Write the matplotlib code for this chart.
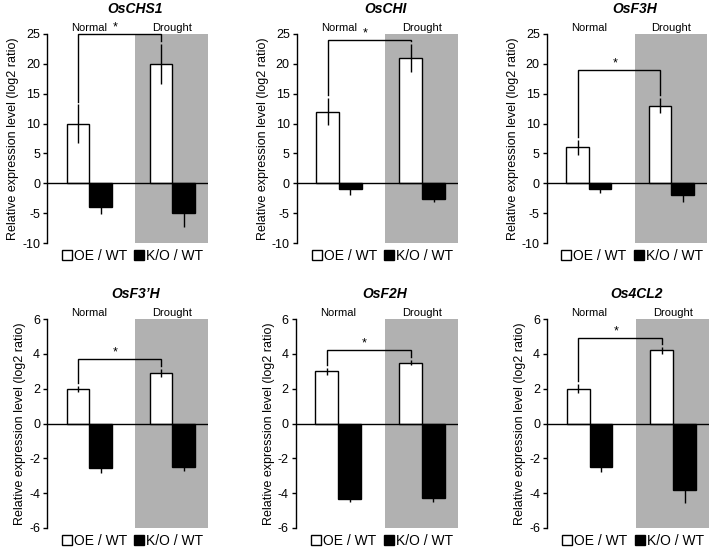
import matplotlib
matplotlib.use("Agg")
import matplotlib.pyplot as plt
from matplotlib.lines import Line2D
import numpy as np

plt.rcParams['font.family'] = ['Liberation Sans', 'DejaVu Sans']
plt.rcParams['axes.unicode_minus'] = False

genes = ["OsCHS1", "OsCHI", "OsF3H", "OsF3\u2019H", "OsF2H", "Os4CL2"]
conditions = ["Normal", "Drought"]
oe_vals = [[10, 20], [12, 21], [6, 13], [2.0, 2.9], [3.0, 3.5], [2.0, 4.2]]
oe_errs = [[3.2, 3.3], [2.3, 2.4], [1.3, 1.25], [0.17, 0.25], [0.2, 0.16], [0.25, 0.2]]
ko_vals = [[-4, -5], [-1, -2.7], [-1, -2], [-2.55, -2.5], [-4.35, -4.3], [-2.5, -3.8]]
ko_errs = [[1.2, 2.4], [1.0, 0.5], [0.6, 1.1], [0.3, 0.2], [0.15, 0.2], [0.3, 0.75]]
bracket_y = [25, 24, 19, 3.7, 4.2, 4.9]
ylims = [(-10, 25), (-10, 25), (-10, 25), (-6, 6), (-6, 6), (-6, 6)]
yticks_top = [-10, -5, 0, 5, 10, 15, 20, 25]
yticks_bot = [-6, -4, -2, 0, 2, 4, 6]
legend_labels = ["OE / WT", "K/O / WT"]

W, H = 709, 549
fig = plt.figure(figsize=(W / 100, H / 100), dpi=100)

lefts = [47, 296.7, 546.7, 47, 295.5, 547]
rights = [208, 458, 707, 208, 458, 709]
tops = [34, 34, 34, 319, 319, 319]
bottoms = [243, 243, 243, 528, 528, 528]

bw = 0.274
gray = "#b1b1b1"
x = np.arange(len(conditions))

for i, gene in enumerate(genes):
    l, r, t, b = lefts[i], rights[i], tops[i], bottoms[i]
    ax = fig.add_axes([l / W, (H - b) / H, (r - l) / W, (b - t) / H])
    ax.set_xlim(-0.51, 1.43)
    ax.set_ylim(*ylims[i])
    ax.axvspan(0.555, 1.43, color=gray, zorder=0, lw=0)
    oe = np.array(oe_vals[i]); oee = np.array(oe_errs[i])
    ko = np.array(ko_vals[i]); koe = np.array(ko_errs[i])
    ax.bar(x - bw / 2, oe, bw, color="white", edgecolor="black", lw=1.0, zorder=2,
           label=legend_labels[0])
    ax.bar(x + bw / 2, ko, bw, color="black", edgecolor="black", lw=1.0, zorder=2,
           label=legend_labels[1])
    ax.errorbar(x - bw / 2, oe, yerr=oee, fmt="none", ecolor="black", elinewidth=1.0,
                capsize=0, zorder=3)
    ax.errorbar(x + bw / 2, ko, yerr=koe, fmt="none", ecolor="black", elinewidth=1.0,
                capsize=0, zorder=1.5)
    ax.axhline(0, color="black", lw=1.0, zorder=4)
    # significance bracket
    yb = bracket_y[i]
    rng = ylims[i][1] - ylims[i][0]
    gap = rng * 0.014
    x0, x1 = x[0] - bw / 2, x[1] - bw / 2
    ax.plot([x0, x0, x1, x1], [oe[0] + oee[0] + gap, yb, yb, oe[1] + oee[1] + gap],
            color="black", lw=1.0, zorder=5, clip_on=False, solid_joinstyle="miter")
    ax.text((x0 + x1) / 2 - 0.05, yb + rng * 0.004, "*", ha="center", va="bottom",
            fontsize=9, zorder=6, clip_on=False)
    for xi, cond in zip(x, conditions):
        ax.text(xi, 1.004, cond, transform=ax.get_xaxis_transform(), ha="center",
                va="bottom", fontsize=8)
    ax.set_title(gene, fontsize=10, fontweight="bold", fontstyle="italic", pad=15,
                 x=0.55)
    ax.set_yticks(yticks_top if i < 3 else yticks_bot)
    ax.set_xticks([])
    for s in ["top", "right", "bottom"]:
        ax.spines[s].set_visible(False)
    ax.spines["left"].set_linewidth(1.0)
    ax.tick_params(axis="y", direction="out", length=3, width=1, labelsize=9, pad=2)
    ax.set_ylabel("Relative expression level (log2 ratio)", fontsize=9, labelpad=2)
    handles = [Line2D([], [], marker="s", ls="none", markerfacecolor="white",
                      markeredgecolor="black", markersize=7.5, markeredgewidth=1.0),
               Line2D([], [], marker="s", ls="none", markerfacecolor="black",
                      markeredgecolor="black", markersize=7.5)]
    ax.legend(handles, legend_labels, loc="upper center", bbox_to_anchor=(0.53, -0.015),
              ncol=2, frameon=False, fontsize=10, handlelength=0.8, handletextpad=0.1,
              columnspacing=0.5, borderaxespad=0.1, borderpad=0.1)

fig.savefig("out.png", dpi=100)
